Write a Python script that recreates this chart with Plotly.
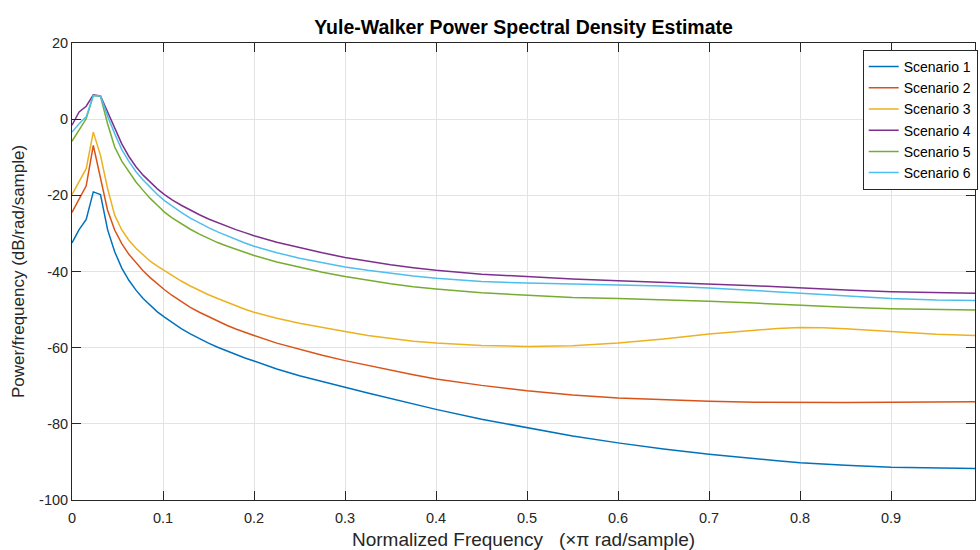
import plotly.graph_objects as go

# Normalized frequency (x pi rad/sample)
freq = [0.0, 0.0078, 0.0156, 0.0234, 0.0313, 0.0391, 0.0469, 0.0547, 0.0625, 0.0703,
        0.0781, 0.0859, 0.0938, 0.1016,
        0.11, 0.12, 0.13, 0.14, 0.15, 0.16, 0.17, 0.18, 0.19, 0.2,
        0.225, 0.25, 0.275, 0.3, 0.325, 0.35, 0.375, 0.4,
        0.45, 0.5, 0.55, 0.6, 0.65, 0.7, 0.75, 0.775, 0.8, 0.825, 0.85, 0.9, 0.95, 0.9922]

scenario_1 = [-32.5, -29.0, -26.3, -19.1, -19.8, -29.0, -34.8, -39.1, -42.3, -44.9,
              -47.1, -48.9, -50.6, -52.0,
              -53.4, -55.0, -56.4, -57.7, -58.8, -59.9, -60.9, -61.8, -62.7, -63.5,
              -65.6, -67.35, -68.95, -70.4, -71.9, -73.4, -74.8, -76.2,
              -78.8, -81.1, -83.2, -85.0, -86.6, -88.0, -89.2, -89.7, -90.2, -90.6, -90.9, -91.4, -91.6, -91.7]
scenario_2 = [-24.5, -21.1, -17.5, -6.9, -15.1, -23.9, -29.1, -32.7, -35.5, -37.8,
              -39.8, -41.6, -43.25, -44.8,
              -46.3, -47.9, -49.4, -50.7, -51.9, -53.1, -54.1, -55.1, -56.0, -56.8,
              -58.8, -60.5, -62.0, -63.4, -64.7, -65.9, -67.1, -68.2,
              -69.9, -71.3, -72.4, -73.2, -73.7, -74.05, -74.3, -74.35, -74.4, -74.4, -74.4, -74.3, -74.2, -74.2]
scenario_3 = [-19.8, -16.5, -13.0, -3.4, -9.5, -18.2, -25.2, -29.1, -31.8, -33.9,
              -35.7, -37.3, -38.6, -39.8,
              -41.1, -42.5, -43.8, -45.0, -46.1, -47.1, -48.1, -49.0, -49.9, -50.7,
              -52.3, -53.6, -54.75, -55.75, -56.8, -57.6, -58.3, -58.8,
              -59.4, -59.7, -59.5, -58.8, -57.7, -56.4, -55.4, -54.95, -54.7, -54.75, -55.0, -55.8, -56.5, -56.8]
scenario_4 = [-1.6, 1.9, 3.4, 6.4, 6.1, 2.0, -2.5, -6.5, -9.8, -12.5,
              -14.7, -16.6, -18.3, -19.8,
              -21.2, -22.6, -23.9, -25.1, -26.2, -27.2, -28.1, -29.0, -29.8, -30.6,
              -32.3, -33.8, -35.1, -36.3, -37.3, -38.2, -39.0, -39.7,
              -40.7, -41.45, -42.0, -42.4, -42.8, -43.2, -43.75, -44.0, -44.3, -44.6, -44.85, -45.3, -45.6, -45.7]
scenario_5 = [-5.8, -2.9, 0.1, 6.2, 6.0, -1.2, -7.3, -11.0, -13.9, -16.5,
              -18.7, -20.8, -22.6, -24.4,
              -25.9, -27.5, -28.9, -30.2, -31.35, -32.4, -33.3, -34.2, -35.0, -35.8,
              -37.5, -38.9, -40.2, -41.3, -42.3, -43.2, -44.0, -44.6,
              -45.6, -46.3, -46.8, -47.1, -47.4, -47.8, -48.3, -48.6, -48.9, -49.2, -49.4, -49.8, -50.0, -50.1]
scenario_6 = [-3.4, -1.2, 0.6, 6.2, 6.1, 0.8, -3.8, -8.0, -11.1, -13.8,
              -16.0, -18.0, -19.8, -21.4,
              -22.9, -24.5, -26.0, -27.3, -28.5, -29.6, -30.6, -31.6, -32.5, -33.35,
              -35.05, -36.5, -37.7, -38.8, -39.7, -40.5, -41.2, -41.8,
              -42.6, -43.05, -43.3, -43.5, -43.8, -44.3, -45.0, -45.35, -45.7, -46.1, -46.45, -47.1, -47.5, -47.6]

series_names = ["Scenario 1", "Scenario 2", "Scenario 3", "Scenario 4", "Scenario 5", "Scenario 6"]
series_values = [scenario_1, scenario_2, scenario_3, scenario_4, scenario_5, scenario_6]
colors = ["#0072BD", "#D95319", "#EDB120", "#7E2F8E", "#77AC30", "#4DBEEE"]

x_ticks = [0, 0.1, 0.2, 0.3, 0.4, 0.5, 0.6, 0.7, 0.8, 0.9]
x_tick_labels = ["0", "0.1", "0.2", "0.3", "0.4", "0.5", "0.6", "0.7", "0.8", "0.9"]
y_ticks = [20, 0, -20, -40, -60, -80, -100]
y_tick_labels = ["20", "0", "-20", "-40", "-60", "-80", "-100"]

FONT = "Liberation Sans, Arial, sans-serif"
INK = "#262626"

fig = go.Figure()
for name, vals, col in zip(series_names, series_values, colors):
    fig.add_trace(go.Scatter(x=freq, y=vals, mode="lines", name=name,
                             line=dict(color=col, width=1.5)))

fig.update_layout(
    width=980, height=550,
    margin=dict(l=72, r=2, t=43, b=50),
    plot_bgcolor="white", paper_bgcolor="white",
    font=dict(family=FONT, color=INK, size=14),
    title=dict(text="<b>Yule-Walker Power Spectral Density Estimate</b>",
               x=0.5, xref="paper", xanchor="center",
               y=1 - 27 / 550, yref="container", yanchor="middle",
               font=dict(family=FONT, size=19.5, color="#000000")),
    showlegend=True,
    legend=dict(x=1.003, xanchor="right", y=1 - 7 / 457, yanchor="top",
                bgcolor="white", bordercolor=INK, borderwidth=1,
                font=dict(family=FONT, size=14, color="#000000"),
                itemwidth=30, tracegroupgap=0),
)
fig.update_xaxes(
    range=[0, 0.9922], tickvals=x_ticks, ticktext=x_tick_labels,
    showgrid=True, gridcolor="#e3e3e3", gridwidth=1,
    showline=True, linecolor=INK, linewidth=1, mirror="ticks",
    ticks="inside", ticklen=9, tickcolor=INK, zeroline=False,
    tickfont=dict(size=14.5, color=INK), ticklabelstandoff=5,
    title=dict(text="Normalized Frequency&nbsp;&nbsp;&nbsp;(×π&nbsp;rad/sample)",
               font=dict(size=19, color=INK), standoff=7),
)
fig.update_yaxes(
    range=[-100, 20], tickvals=y_ticks, ticktext=y_tick_labels,
    showgrid=True, gridcolor="#e3e3e3", gridwidth=1,
    showline=True, linecolor=INK, linewidth=1, mirror="ticks",
    ticks="inside", ticklen=9, tickcolor=INK, zeroline=False,
    tickfont=dict(size=14.5, color=INK),
    title=dict(text="Power/frequency (dB/rad/sample)", font=dict(size=17, color=INK), standoff=10),
)

fig.write_html("out.html")
